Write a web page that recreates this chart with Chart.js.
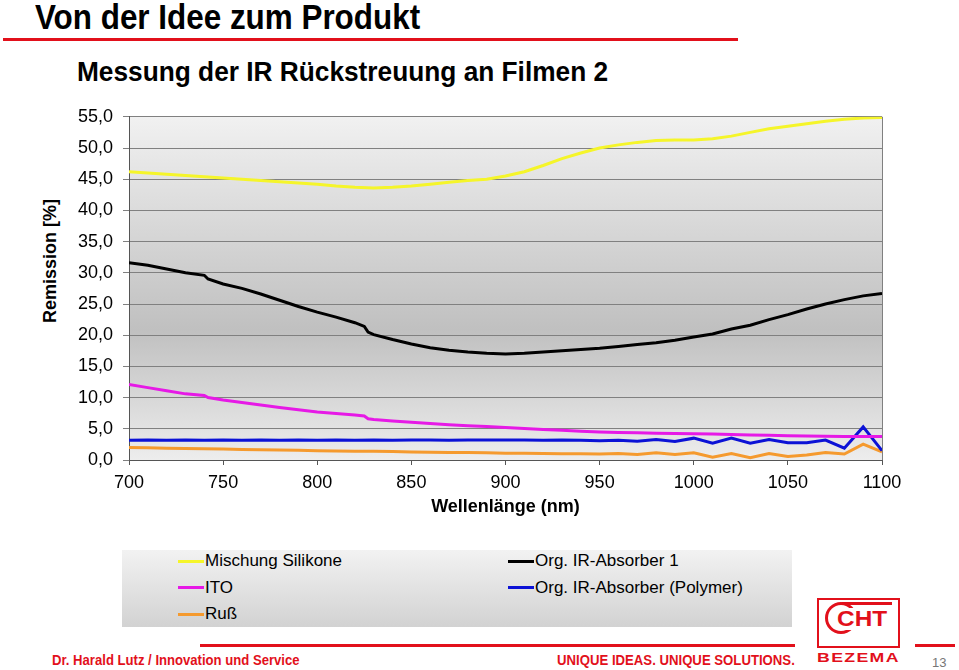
<!DOCTYPE html>
<html>
<head>
<meta charset="utf-8">
<script src="https://cdn.jsdelivr.net/npm/chart.js@4.4.1/dist/chart.umd.min.js"></script>
<style>
    body {
        margin: 0;
        width: 959px;
        height: 670px;
        background: #fff;
        position: relative;
        overflow: hidden;
        font-family: "Liberation Sans", Arial, sans-serif;
    }
    .abs { position: absolute; white-space: nowrap; line-height: 1; }
    .narrow {
        font-family: "Liberation Sans Narrow", "Liberation Sans", Arial, sans-serif;
        font-weight: bold;
        transform-origin: 0 0;
    }
    .red { color: #e2101b; }
    .bar { position: absolute; background: #e2101b; }
    #chart-wrap { position: absolute; left: 0; top: 96px; width: 959px; height: 434px; }
    #legend-container {
        position: absolute; left: 122px; top: 550px; width: 670px; height: 77px;
        background: linear-gradient(#f2f2f2, #d2d2d2);
    }
</style>
</head>
<body>
<div class="abs narrow" id="title" data-w="385" style="left:35px;top:-1px;font-size:35px;">Von der Idee zum Produkt</div>
<div class="bar" style="left:3px;top:38px;width:735px;height:3px;"></div>
<div class="abs narrow" data-w="531" style="left:77px;top:59px;font-size:27px;">Messung der IR Rückstreuung an Filmen 2</div>

<div class="abs" style="left:50px;top:261px;font-size:18px;font-weight:bold;transform:translate(-50%,-50%) rotate(-90deg);">Remission [%]</div>

<div id="chart-wrap"><canvas id="chart"></canvas></div>
<div id="legend-container"></div>

<!-- footer -->
<div class="bar" style="left:200px;top:644px;width:595px;height:3px;"></div>
<div class="bar" style="left:915px;top:644px;width:40px;height:3px;"></div>
<div class="abs narrow red" data-w="248" style="left:52px;top:653px;font-size:14px;">Dr. Harald Lutz / Innovation und Service</div>
<div class="abs narrow red" data-w="238" style="left:557px;top:653px;font-size:14px;">UNIQUE IDEAS. UNIQUE SOLUTIONS.</div>
<div class="abs" style="left:932px;top:656px;font-size:13px;color:#777;">13</div>

<!-- logo -->
<div class="abs" style="left:817px;top:598px;width:79px;height:46px;border:2px solid #e2101b;"></div>
<div class="abs" style="left:825px;top:602px;width:26px;height:26px;border:3px solid #e2101b;border-radius:50%;"></div>
<div class="bar" style="left:842px;top:602px;width:50px;height:3px;"></div>
<div class="abs narrow red" data-w="52" style="left:836px;top:608px;font-size:22px;background:#fff;padding:0 1px;">CHT</div>
<div class="abs narrow red" data-w="83" style="left:817px;top:651px;font-size:13px;font-family:'Liberation Sans',Arial,sans-serif;letter-spacing:1px;">BEZEMA</div>

<script>
    const wavelengths = [700, 710, 720, 730, 740, 742, 750, 760, 770, 780, 790, 800, 810, 820, 825, 827,
        830, 840, 850, 860, 870, 880, 890, 900, 910, 920, 930, 940, 950, 960, 970, 980, 990,
        1000, 1010, 1020, 1030, 1040, 1050, 1060, 1070, 1080, 1090, 1100];

    const silikone = [46.2, 46.0, 45.8, 45.6, 45.4, null, 45.2, 45.0, 44.8, 44.6, 44.4, 44.2, 43.9, 43.7, null, null,
        43.6, 43.7, 43.9, 44.2, 44.5, 44.8, 45.0, 45.5, 46.2, 47.2, 48.3, 49.2, 50.0, 50.5, 50.9, 51.2, 51.3,
        51.3, 51.5, 51.9, 52.5, 53.1, 53.5, 53.9, 54.3, 54.6, 54.8, 54.9];

    const absorber1 = [31.6, 31.2, 30.6, 30.0, 29.6, 29.0, 28.2, 27.5, 26.6, 25.6, 24.6, 23.7, 22.9, 22.0, 21.4, 20.5,
        20.1, 19.3, 18.6, 18.0, 17.6, 17.3, 17.1, 17.0, 17.1, 17.3, 17.5, 17.7, 17.9, 18.2, 18.5, 18.8, 19.2,
        19.7, 20.2, 21.0, 21.6, 22.5, 23.3, 24.2, 25.0, 25.7, 26.3, 26.7];

    const ito = [12.1, 11.6, 11.1, 10.6, 10.35, 10.0, 9.6, 9.2, 8.8, 8.4, 8.05, 7.7, 7.45, 7.2, 7.05, 6.6,
        6.5, 6.25, 6.05, 5.85, 5.65, 5.5, 5.35, 5.2, 5.05, 4.9, 4.75, 4.6, 4.5, 4.4, 4.35, 4.3, 4.25,
        4.2, 4.15, 4.1, 4.0, 3.95, 3.9, 3.85, 3.8, 3.78, 3.75, 3.75];

    const polymer = [3.15, 3.2, 3.15, 3.2, 3.15, null, 3.2, 3.15, 3.2, 3.15, 3.2, 3.15, 3.2, 3.15, null, null,
        3.2, 3.15, 3.2, 3.2, 3.15, 3.2, 3.2, 3.2, 3.2, 3.15, 3.2, 3.15, 3.1, 3.15, 3.0, 3.3, 2.95,
        3.5, 2.7, 3.5, 2.7, 3.3, 2.75, 2.75, 3.2, 1.9, 5.3, 1.5];

    const russ = [2.0, 1.95, 1.9, 1.85, 1.8, null, 1.75, 1.7, 1.65, 1.6, 1.55, 1.5, 1.45, 1.4, null, null,
        1.4, 1.35, 1.3, 1.25, 1.2, 1.2, 1.15, 1.1, 1.1, 1.05, 1.0, 1.0, 0.95, 1.05, 0.9, 1.15, 0.9,
        1.15, 0.45, 1.05, 0.35, 1.05, 0.55, 0.8, 1.2, 0.95, 2.55, 1.3];

    const seriesNames = ['Mischung Silikone', 'Org. IR-Absorber 1', 'ITO', 'Org. IR-Absorber (Polymer)', 'Ruß'];
    const seriesColors = ['#f5f52a', '#000000', '#e619e6', '#0c12d6', '#f59a2e'];
    const seriesValues = [silikone, absorber1, ito, polymer, russ];

    const yTicks = {min: 0, max: 55, step: 5};
    const xTicks = {min: 700, max: 1100, step: 50};

    // squeeze condensed texts to the width they have on the slide
    document.querySelectorAll('[data-w]').forEach(el => {
        const w = Number(el.dataset.w);
        el.style.transform = 'scaleX(' + (w / el.offsetWidth) + ')';
    });

    const toPoints = (values) => values.map((v, i) => ({x: wavelengths[i], y: v}));

    const getOrCreateLegendList = (chart, id) => {
        const legendContainer = document.getElementById(id);
        let listContainer = legendContainer.querySelector('ul');

        if (!listContainer) {
            listContainer = document.createElement('ul');
            listContainer.style.display = 'grid';
            listContainer.style.gridTemplateColumns = '330px 330px';
            listContainer.style.gridAutoRows = '26.5px';
            listContainer.style.margin = '-2px 0 0 56px';
            listContainer.style.padding = 0;
            listContainer.style.listStyle = 'none';
            legendContainer.appendChild(listContainer);
        }
        return listContainer;
    };

    const htmlLegendPlugin = {
        id: 'htmlLegend',
        afterUpdate(chart, args, options) {
            const ul = getOrCreateLegendList(chart, options.containerID);
            while (ul.firstChild) {
                ul.firstChild.remove();
            }
            const items = chart.options.plugins.legend.labels.generateLabels(chart);

            items.forEach(item => {
                const li = document.createElement('li');
                li.style.display = 'flex';
                li.style.alignItems = 'center';

                const boxSpan = document.createElement('span');
                boxSpan.style.background = item.strokeStyle;
                boxSpan.style.display = 'inline-block';
                boxSpan.style.height = '3px';
                boxSpan.style.width = '26px';
                boxSpan.style.marginRight = '1px';

                const textContainer = document.createElement('p');
                textContainer.style.margin = 0;
                textContainer.style.padding = 0;
                textContainer.style.fontSize = '17px';
                textContainer.style.color = '#000';
                textContainer.style.whiteSpace = 'nowrap';
                textContainer.appendChild(document.createTextNode(item.text));

                li.appendChild(boxSpan);
                li.appendChild(textContainer);
                ul.appendChild(li);
            });
        }
    };

    // grey gradient behind the plot, light - dark - light like the Excel plot area
    const plotBackground = {
        id: 'plotBackground',
        beforeDraw(chart) {
            const {ctx, chartArea: a} = chart;
            const g = ctx.createLinearGradient(0, a.top, 0, a.bottom);
            g.addColorStop(0, '#f1f1f1');
            g.addColorStop(0.62, '#c0c0c0');
            g.addColorStop(1, '#ededed');
            ctx.save();
            ctx.fillStyle = g;
            ctx.fillRect(a.left, a.top, a.right - a.left, a.bottom - a.top);
            ctx.restore();
        },
        beforeDatasetsDraw(chart) {
            const {ctx, chartArea: a} = chart;
            ctx.save();
            ctx.strokeStyle = '#808080';
            ctx.lineWidth = 1;
            ctx.beginPath();
            ctx.moveTo(a.right + 0.5, a.top);
            ctx.lineTo(a.right + 0.5, a.bottom);
            ctx.stroke();
            ctx.restore();
        }
    };

    Chart.defaults.font.family = '"Liberation Sans", Arial, sans-serif';
    Chart.defaults.color = '#000';

    const chart = new Chart(document.getElementById('chart'), {
        type: 'line',
        data: {
            datasets: seriesNames.map((name, i) => ({
                label: name,
                data: toPoints(seriesValues[i]),
                borderColor: seriesColors[i],
                backgroundColor: seriesColors[i],
                borderWidth: 3,
                pointRadius: 0,
                tension: 0,
                spanGaps: true,
            }))
        },
        options: {
            responsive: true,
            maintainAspectRatio: false,
            animation: false,
            layout: {padding: {left: 0, right: 77, top: 12, bottom: 0}},
            plugins: {
                legend: {display: false},
                tooltip: {enabled: false},
                htmlLegend: {containerID: 'legend-container'},
            },
            scales: {
                x: {
                    type: 'linear',
                    min: xTicks.min,
                    max: xTicks.max,
                    ticks: {
                        stepSize: xTicks.step,
                        font: {size: 18},
                        padding: 7,
                        color: '#000',
                        callback: (v) => String(v),
                    },
                    grid: {drawOnChartArea: false, drawTicks: true, tickLength: 5, color: '#555'},
                    border: {color: '#555', width: 1},
                    title: {
                        display: true,
                        text: 'Wellenlänge (nm)',
                        font: {size: 18, weight: 'bold'},
                        color: '#000',
                        padding: {top: 0, bottom: 12},
                    },
                    afterFit: (scale) => { scale.height = 70; },
                },
                y: {
                    min: yTicks.min,
                    max: yTicks.max,
                    ticks: {
                        stepSize: yTicks.step,
                        font: {size: 18},
                        padding: 10,
                        color: '#000',
                        callback: (v) => v.toFixed(1).replace('.', ','),
                    },
                    grid: {color: '#808080', lineWidth: 1, tickLength: 6},
                    border: {color: '#555', width: 1},
                    afterFit: (scale) => { scale.width = 129; },
                }
            }
        },
        plugins: [plotBackground, htmlLegendPlugin],
    });
</script>
</body>
</html>
